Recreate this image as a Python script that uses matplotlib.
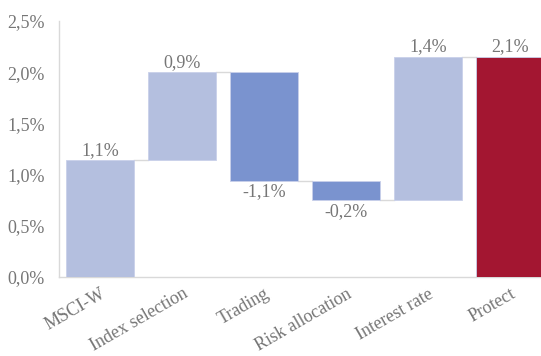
import matplotlib
matplotlib.use("Agg")
import matplotlib.pyplot as plt
from matplotlib.ticker import FuncFormatter

categories = ["MSCI-W", "Index selection", "Trading", "Risk allocation", "Interest rate", "Protect"]
changes = [1.14, 0.86, -1.06, -0.19, 1.40]
total = 2.15
value_labels = ["1,1%", "0,9%", "-1,1%", "-0,2%", "1,4%", "2,1%"]
yticks = [0.0, 0.5, 1.0, 1.5, 2.0, 2.5]

light = "#b4bfdf"
dark = "#7a93cf"
red = "#a31631"
grey = "#767676"

plt.rcParams["font.family"] = ["Liberation Serif", "DejaVu Serif"]

fig = plt.figure(figsize=(5.41, 3.56), dpi=100)
ax = fig.add_axes([59/541, 1 - 277/356, (551 - 59)/541, (277 - 21)/356])

bottoms, heights, colors = [], [], []
level = 0.0
for i, c in enumerate(changes):
    if c >= 0:
        bottoms.append(level)
        heights.append(c)
        colors.append(light)
    else:
        bottoms.append(level + c)
        heights.append(-c)
        colors.append(dark)
    level += c
bottoms.append(0.0)
heights.append(total)
colors.append(red)

x = list(range(len(categories)))
width = 0.83
ax.bar(x, heights, bottom=bottoms, width=width, color=colors,
       edgecolor="#c9d0ea", linewidth=0.6, zorder=3)

# connectors
level = 0.0
for i, c in enumerate(changes):
    level += c
    ax.plot([i + width/2, i + 1 - width/2], [level, level],
            color="#d9d9d9", lw=1.0, zorder=2)

fs = 13
level = 0.0
for i, c in enumerate(changes):
    top = level + max(c, 0)
    bot = level + min(c, 0)
    if c >= 0:
        ax.annotate(value_labels[i], (i, top), xytext=(0, 1), textcoords="offset points",
                    ha="center", va="bottom", fontsize=fs, color=grey)
    else:
        ax.annotate(value_labels[i], (i, bot), xytext=(0, -2), textcoords="offset points",
                    ha="center", va="top", fontsize=fs, color=grey)
    level += c
ax.annotate(value_labels[-1], (len(changes), total), xytext=(0, 1), textcoords="offset points",
            ha="center", va="bottom", fontsize=fs, color=grey)

ax.set_xlim(-0.5, len(categories) - 0.5)
ax.set_ylim(0, 2.5)
ax.set_yticks(yticks)
ax.yaxis.set_major_formatter(FuncFormatter(lambda v, p: f"{v:.1f}%".replace(".", ",")))
ax.set_xticks(x)
ax.set_xticklabels(categories, rotation=30, ha="right", rotation_mode="anchor")
ax.tick_params(axis="both", length=0, labelsize=fs, colors=grey)
ax.tick_params(axis="y", pad=10)
ax.tick_params(axis="x", pad=6)

for s in ["top", "right"]:
    ax.spines[s].set_visible(False)
for s in ["left", "bottom"]:
    ax.spines[s].set_color("#d9d9d9")
    ax.spines[s].set_linewidth(1.0)

fig.savefig("out.png", dpi=100)
